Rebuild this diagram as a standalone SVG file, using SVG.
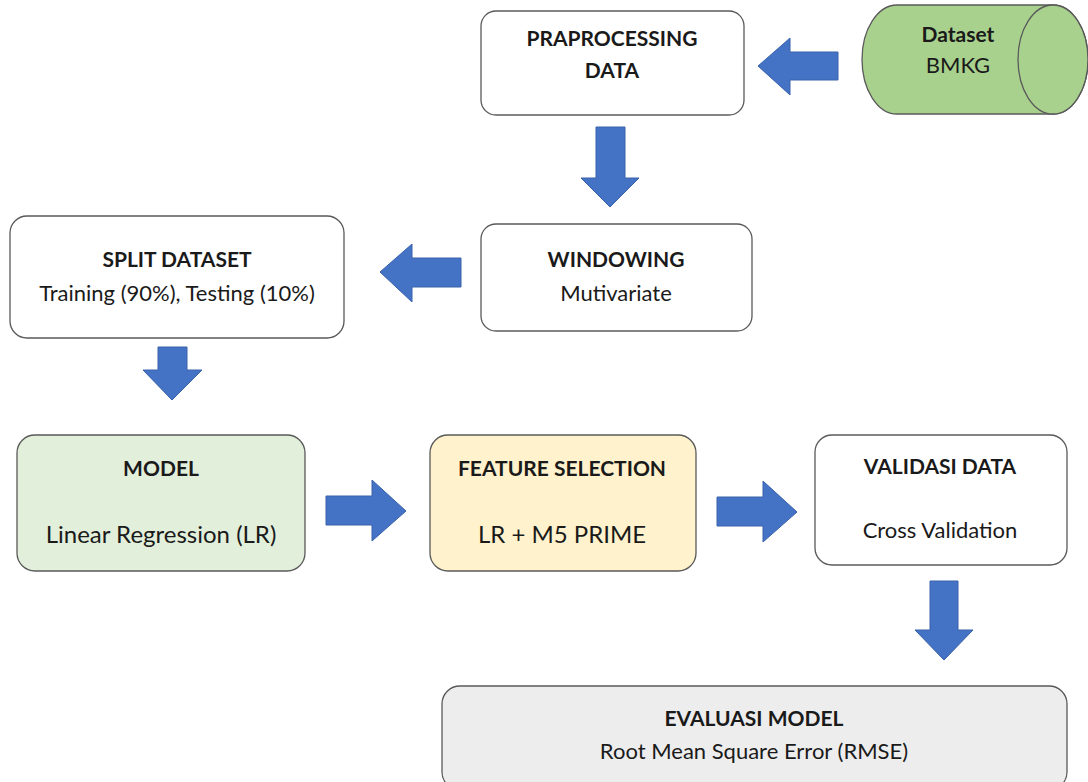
<svg xmlns="http://www.w3.org/2000/svg" width="1088" height="782" viewBox="0 0 1088 782">
<style>
.box{stroke:#595959;stroke-width:1.3}
.arr{fill:#4472c4;stroke:#3a62ab;stroke-width:1}
text{font-family:Lato,"Liberation Sans",sans-serif;fill:#1a1a1a;text-anchor:middle}
.h{font-weight:bold;font-size:21px}
.t{font-size:22px}
.l{font-size:24px}
</style>
<rect width="1088" height="782" fill="#ffffff"/>
<g id="dataset">
<path class="box" d="M897,5 L1053,5 A35,54.5 0 0 1 1053,114 L897,114 A35,54.5 0 0 1 897,5 Z" fill="#a9d18e"/>
<ellipse class="box" cx="1053" cy="59.5" rx="35" ry="54.5" fill="#a9d18e"/>
<text class="h" x="958" y="42">Dataset</text>
<text class="t" x="958" y="73">BMKG</text>
</g>
<g id="praprocessing">
<rect class="box" x="481" y="11" width="263" height="104" rx="15" fill="#ffffff"/>
<text class="h" x="612" y="46">PRAPROCESSING</text>
<text class="h" x="612" y="78">DATA</text>
</g>
<g id="windowing">
<rect class="box" x="481" y="224" width="271" height="107" rx="15" fill="#ffffff"/>
<text class="h" x="616" y="267">WINDOWING</text>
<text class="t" x="616" y="301">Mutivariate</text>
</g>
<g id="split">
<rect class="box" x="10" y="216" width="334" height="122" rx="17" fill="#ffffff"/>
<text class="h" x="177" y="267">SPLIT DATASET</text>
<text class="t" x="177" y="301">Training (90%), Testing (10%)</text>
</g>
<g id="model">
<rect class="box" x="17" y="435" width="288" height="136" rx="18" fill="#e2efda"/>
<text class="h" x="161" y="476">MODEL</text>
<text class="l" x="161" y="543">Linear Regression (LR)</text>
</g>
<g id="feature">
<rect class="box" x="430" y="435" width="266" height="136" rx="18" fill="#fff2cc"/>
<text class="h" x="562" y="476">FEATURE SELECTION</text>
<text class="l" x="562" y="543">LR + M5 PRIME</text>
</g>
<g id="validasi">
<rect class="box" x="815" y="435" width="252" height="130" rx="17" fill="#ffffff"/>
<text class="h" x="940" y="474">VALIDASI DATA</text>
<text class="t" x="940" y="538">Cross Validation</text>
</g>
<g id="evaluasi">
<rect class="box" x="442" y="686" width="625" height="104" rx="18" fill="#ededed"/>
<text class="h" x="754" y="726">EVALUASI MODEL</text>
<text class="t" x="754" y="759">Root Mean Square Error (RMSE)</text>
</g>
<g id="connectors">
<polygon class="arr" points="838,52 790,52 790,38 758,66 790,95 790,80 838,80"/>
<polygon class="arr" points="596,127 625,127 625,178 639,178 610,207 581,178 596,178"/>
<polygon class="arr" points="461,258 412,258 412,244 380,272 412,302 412,287 461,287"/>
<polygon class="arr" points="158,347 187,347 187,370 202,370 172,400 143,370 158,370"/>
<polygon class="arr" points="326,496 372,496 372,480 406,511 372,541 372,525 326,525"/>
<polygon class="arr" points="717,497 763,497 763,481 797,512 763,542 763,526 717,526"/>
<polygon class="arr" points="930,581 958,581 958,630 973,630 944,660 915,630 930,630"/>
</g>
</svg>
